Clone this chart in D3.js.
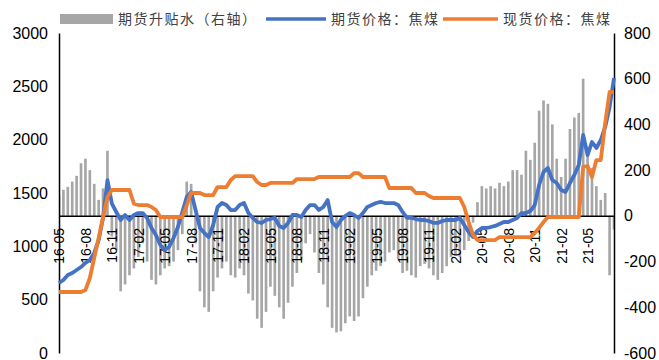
<!DOCTYPE html>
<html>
<head>
<meta charset="utf-8">
<script src="https://cdn.jsdelivr.net/npm/d3@7"></script>
<style>
  body { margin: 0; background: #fff; }
  svg text { font-family: "Liberation Sans", Arial, sans-serif; }
  .legend text { font-family: "Noto Sans CJK SC", sans-serif; font-size: 14px; fill: #404040; letter-spacing: 1.5px; }
</style>
</head>
<body>
<script>
// half-month points from 16-05 to 21-08
var xLabels = ["16-05","16-08","16-11","17-02","17-05","17-08","17-11","18-02","18-05","18-08","18-11",
               "19-02","19-05","19-08","19-11","20-02","20-05","20-08","20-11","21-02","21-05"];
var leftTicks = [0, 500, 1000, 1500, 2000, 2500, 3000];
var rightTicks = [-600, -400, -200, 0, 200, 400, 600, 800];
var seriesNames = ["期货升贴水（右轴）", "期货价格：焦煤", "现货价格：焦煤"];

// 期货价格：焦煤
var futures = [656,684,731,750,778,806,844,872,938,1059,1266,1620,1400,1322,1247,1294,1247,1294,1312,1312,
  1266,1172,1106,1012,966,994,1078,1181,1322,1462,1509,1340,1172,1125,1087,1200,1369,1406,1387,1340,
  1340,1387,1406,1312,1266,1228,1219,1247,1256,1266,1191,1172,1219,1294,1294,1275,1340,1387,1387,1340,
  1369,1434,1228,1181,1247,1284,1312,1294,1266,1312,1369,1387,1406,1416,1406,1406,1406,1387,1322,1266,
  1266,1256,1247,1247,1237,1219,1219,1237,1247,1247,1247,1266,1200,1134,1087,1144,1172,1172,1181,1191,
  1209,1228,1228,1247,1266,1312,1312,1331,1387,1575,1697,1734,1622,1594,1528,1509,1594,1669,1763,2044,
  1856,1978,1922,1997,2119,2306,2578];

// 现货价格：焦煤
var spot = [572,572,572,572,572,572,590,703,891,1078,1275,1462,1528,1528,1528,1528,1528,1400,1387,1387,
  1387,1369,1340,1275,1275,1275,1275,1275,1275,1387,1500,1500,1500,1481,1481,1481,1556,1556,1556,1622,
  1659,1659,1659,1659,1659,1603,1575,1575,1594,1594,1594,1594,1594,1594,1631,1631,1631,1631,1631,1650,
  1650,1650,1650,1650,1650,1650,1650,1687,1687,1650,1650,1650,1650,1650,1650,1547,1547,1547,1547,1547,
  1547,1500,1500,1500,1472,1453,1453,1453,1453,1453,1453,1453,1369,1228,1106,1059,1059,1059,1059,1059,
  1087,1087,1087,1087,1087,1087,1087,1087,1125,1172,1228,1275,1275,1275,1275,1275,1275,1275,1275,1744,
  1753,1650,1809,1809,2156,2447,2447];

// 期货升贴水（右轴）
var basis = [90,114,127,150,175,230,250,200,140,70,120,285,-90,-150,-330,-300,-260,-230,-180,-120,
  -200,-280,-300,-260,-230,-220,-200,-150,-80,150,140,-120,-330,-400,-420,-330,-270,-230,-200,-260,
  -270,-230,-260,-340,-370,-450,-490,-420,-310,-350,-400,-450,-380,-310,-250,-190,-120,-80,-160,-250,
  -300,-400,-490,-510,-505,-470,-440,-460,-440,-360,-310,-260,-240,-220,-200,-160,-150,-190,-250,-240,
  -260,-270,-220,-210,-230,-260,-280,-250,-220,-180,-170,-180,-150,-110,-30,60,130,120,130,120,
  145,130,150,200,200,180,285,245,320,460,505,490,400,250,170,250,380,430,450,600,
  300,210,130,70,100,-260,-60];

var width = 659, height = 360;
var svg = d3.select("body").append("svg")
    .attr("width", width)
    .attr("height", height);

var plotL = 59, plotR = 614, plotT = 33, plotB = 353;

var x = d3.scaleLinear().domain([0, futures.length - 1]).range([plotL, plotR]);
var yL = d3.scaleLinear().domain([0, 3000]).range([plotB, plotT]);
var yR = d3.scaleLinear().domain([-600, 800]).range([plotB, plotT]);

svg.append("clipPath").attr("id", "plot")
  .append("rect").attr("x", plotL).attr("y", plotT).attr("width", plotR - plotL).attr("height", plotB - plotT);

// bars (thin, like the dense daily bars)
var bw = (x(1) - x(0)) * 0.6;
svg.append("g").attr("clip-path", "url(#plot)")
  .selectAll("rect")
  .data(basis)
  .enter().append("rect")
    .attr("x", function(d, i) { return x(i) - bw / 2; })
    .attr("width", bw)
    .attr("y", function(d) { return yR(Math.max(0, d)); })
    .attr("height", function(d) { return Math.abs(yR(d) - yR(0)); })
    .attr("fill", "#a6a6a6");

var plain = function(d) { return String(d); };

// left axis
var gL = svg.append("g")
    .attr("transform", "translate(" + plotL + ",0)")
    .call(d3.axisLeft(yL).tickValues(leftTicks).tickFormat(plain).tickSize(0).tickPadding(11));
// right axis
var gR = svg.append("g")
    .attr("transform", "translate(" + plotR + ",0)")
    .call(d3.axisRight(yR).tickValues(rightTicks).tickFormat(plain).tickSize(0).tickPadding(10));

[gL, gR].forEach(function(g) {
  g.select(".domain").attr("stroke", "#000").attr("stroke-width", 1.5);
  g.selectAll("text").attr("font-size", 16).attr("fill", "#000")
    .style("font-family", "Liberation Sans, Arial, sans-serif");
});

// category axis on the zero line of the right axis
var tickIdx = xLabels.map(function(d, i) { return i * 6; });
var gX = svg.append("g")
    .attr("transform", "translate(0," + yR(0) + ")")
    .call(d3.axisBottom(x).tickValues(tickIdx).tickSize(0)
      .tickFormat(function(d, i) { return xLabels[i]; }));
gX.select(".domain").attr("stroke", "#000").attr("stroke-width", 1.5);
gX.selectAll("text")
    .attr("font-size", 14)
    .attr("fill", "#000")
    .style("font-family", "Liberation Sans, Arial, sans-serif")
    .attr("text-anchor", "end")
    .attr("transform", "translate(0,12) rotate(-90)")
    .attr("x", 0)
    .attr("y", 0)
    .attr("dy", "0.35em");

// lines
var lineL = d3.line()
    .x(function(d, i) { return x(i); })
    .y(function(d) { return yL(d); });

svg.append("path")
    .datum(futures)
    .attr("fill", "none")
    .attr("stroke", "#4472c4")
    .attr("stroke-width", 3.8)
    .attr("stroke-linejoin", "round")
    .attr("d", lineL);

svg.append("path")
    .datum(spot)
    .attr("fill", "none")
    .attr("stroke", "#ed7d31")
    .attr("stroke-width", 3.8)
    .attr("stroke-linejoin", "round")
    .attr("d", lineL);

// legend
var legend = svg.append("g").attr("class", "legend");
legend.append("rect").attr("x", 60).attr("y", 14).attr("width", 53).attr("height", 10).attr("fill", "#a6a6a6");
legend.append("text").attr("x", 118).attr("y", 24).text(seriesNames[0]);
legend.append("line").attr("x1", 266).attr("x2", 326).attr("y1", 19).attr("y2", 19)
    .attr("stroke", "#4472c4").attr("stroke-width", 3.5);
legend.append("text").attr("x", 331).attr("y", 24).text(seriesNames[1]);
legend.append("line").attr("x1", 443).attr("x2", 498).attr("y1", 19).attr("y2", 19)
    .attr("stroke", "#ed7d31").attr("stroke-width", 3.5);
legend.append("text").attr("x", 503).attr("y", 24).text(seriesNames[2]);
</script>
</body>
</html>
